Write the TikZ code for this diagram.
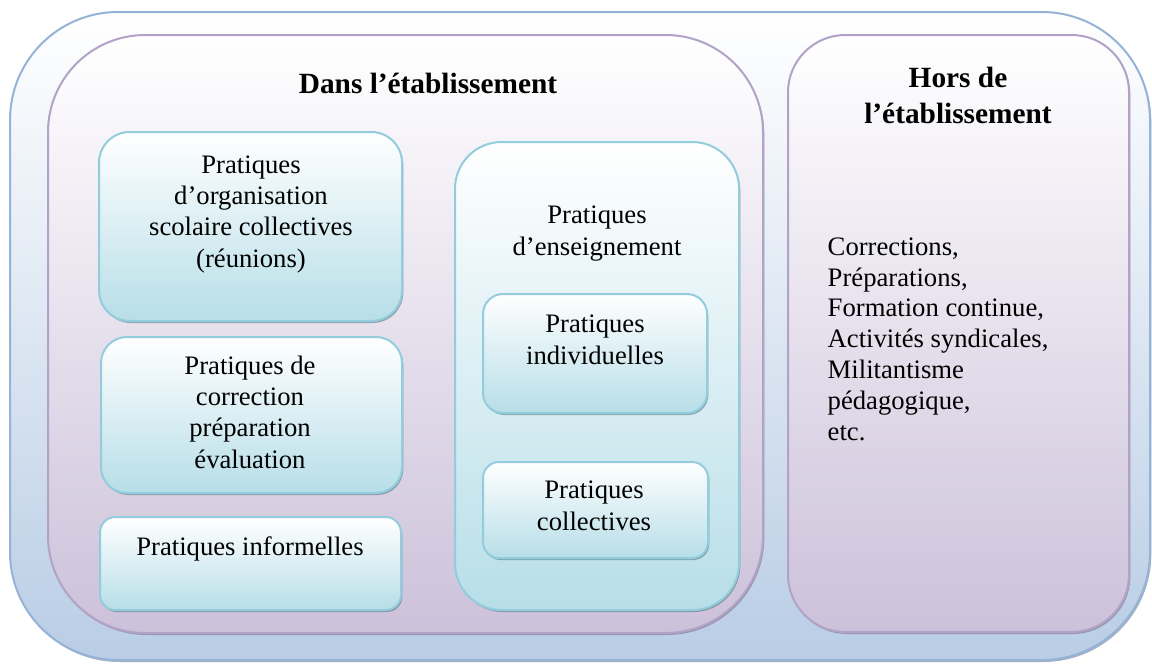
\documentclass[tikz,border=0pt]{standalone}
\usepackage{fontspec}
\setmainfont{Liberation Serif}
\usetikzlibrary{shadows}
\definecolor{bleuFond}{HTML}{B9CDE5}
\definecolor{bleuBord}{HTML}{95B3D7}
\definecolor{mauveFond}{HTML}{CCC1DA}
\definecolor{mauveBord}{HTML}{B3A2C7}
\definecolor{cyanFond}{HTML}{B7DEE8}
\definecolor{cyanBord}{HTML}{93CDDD}

\begin{document}
\begin{tikzpicture}[x=0.75pt, y=-0.75pt, every node/.style={font=\fontsize{20}{23.3}\selectfont, align=center}, taille/.style 2 args={minimum width=#1*0.75pt, minimum height=#2*0.75pt}, cadre/.style={rectangle, draw=bleuBord, line width=1.5pt, top color=white, bottom color=bleuFond, drop shadow={shadow xshift=1pt, shadow yshift=-1.5pt, opacity=.6, fill=bleuBord!70!black}}, zone/.style={rectangle, draw=mauveBord, line width=1.5pt, top color=white, bottom color=mauveFond, drop shadow={shadow xshift=1pt, shadow yshift=-1.5pt, opacity=.6, fill=mauveBord!70!black}}, pratique/.style={rectangle, draw=cyanBord, line width=1.5pt, top color=white, bottom color=cyanFond, drop shadow={shadow xshift=1pt, shadow yshift=-1.5pt, opacity=.6, fill=cyanBord!60!black}}, titre/.style={font=\bfseries\fontsize{22}{26.3}\selectfont, anchor=base}, texte/.style={anchor=base}]
\useasboundingbox (0,0) rectangle (1152,664);

% cadres
\node[cadre, taille={1140}{648}, rounded corners=81pt] (global) at (580,336) {};
\node[zone, taille={715}{598}, rounded corners=73pt] (dans) at (405.5,334) {};
\node[zone, taille={341}{597}, rounded corners=43pt] (hors) at (958.5,333.5) {};

% pratiques dans l'etablissement
\node[pratique, taille={303}{189}, rounded corners=23pt] (org) at (250.5,226.5) {};
\node[pratique, taille={301}{156}, rounded corners=19.5pt] (corr) at (251.5,415) {};
\node[pratique, taille={301}{93}, rounded corners=11.6pt] (info) at (250.5,563.5) {};
\node[pratique, taille={284}{468}, rounded corners=35pt] (ens) at (597,376) {};
\node[pratique, taille={224}{119}, rounded corners=15pt] (indiv) at (595,353.5) {};
\node[pratique, taille={225}{96}, rounded corners=12pt] (coll) at (595.5,510) {};

% textes (ancre = ligne de base de la derniere ligne)
\node[titre] (t-dans) at (428,93) {Dans l’établissement};
\node[titre] (t-hors) at (958,123) {Hors de\\l’établissement};
\node[texte] (t-org) at (251,267) {Pratiques\\d’organisation\\scolaire collectives\\(réunions)};
\node[texte] (t-corr) at (250,468) {Pratiques de\\correction\\préparation\\évaluation};
\node[texte] (t-info) at (250,555) {Pratiques informelles};
\node[texte] (t-ens) at (597,255) {Pratiques\\d’enseignement};
\node[texte] (t-indiv) at (595,364) {Pratiques\\individuelles};
\node[texte] (t-coll) at (594,530) {Pratiques\\collectives};
\node[texte, anchor=base west, align=left, font=\fontsize{20}{23.1}\selectfont] (t-liste) at (823,440) {Corrections,\\Préparations,\\Formation continue,\\Activités syndicales,\\Militantisme\\pédagogique,\\etc.};
\end{tikzpicture}
\end{document}
